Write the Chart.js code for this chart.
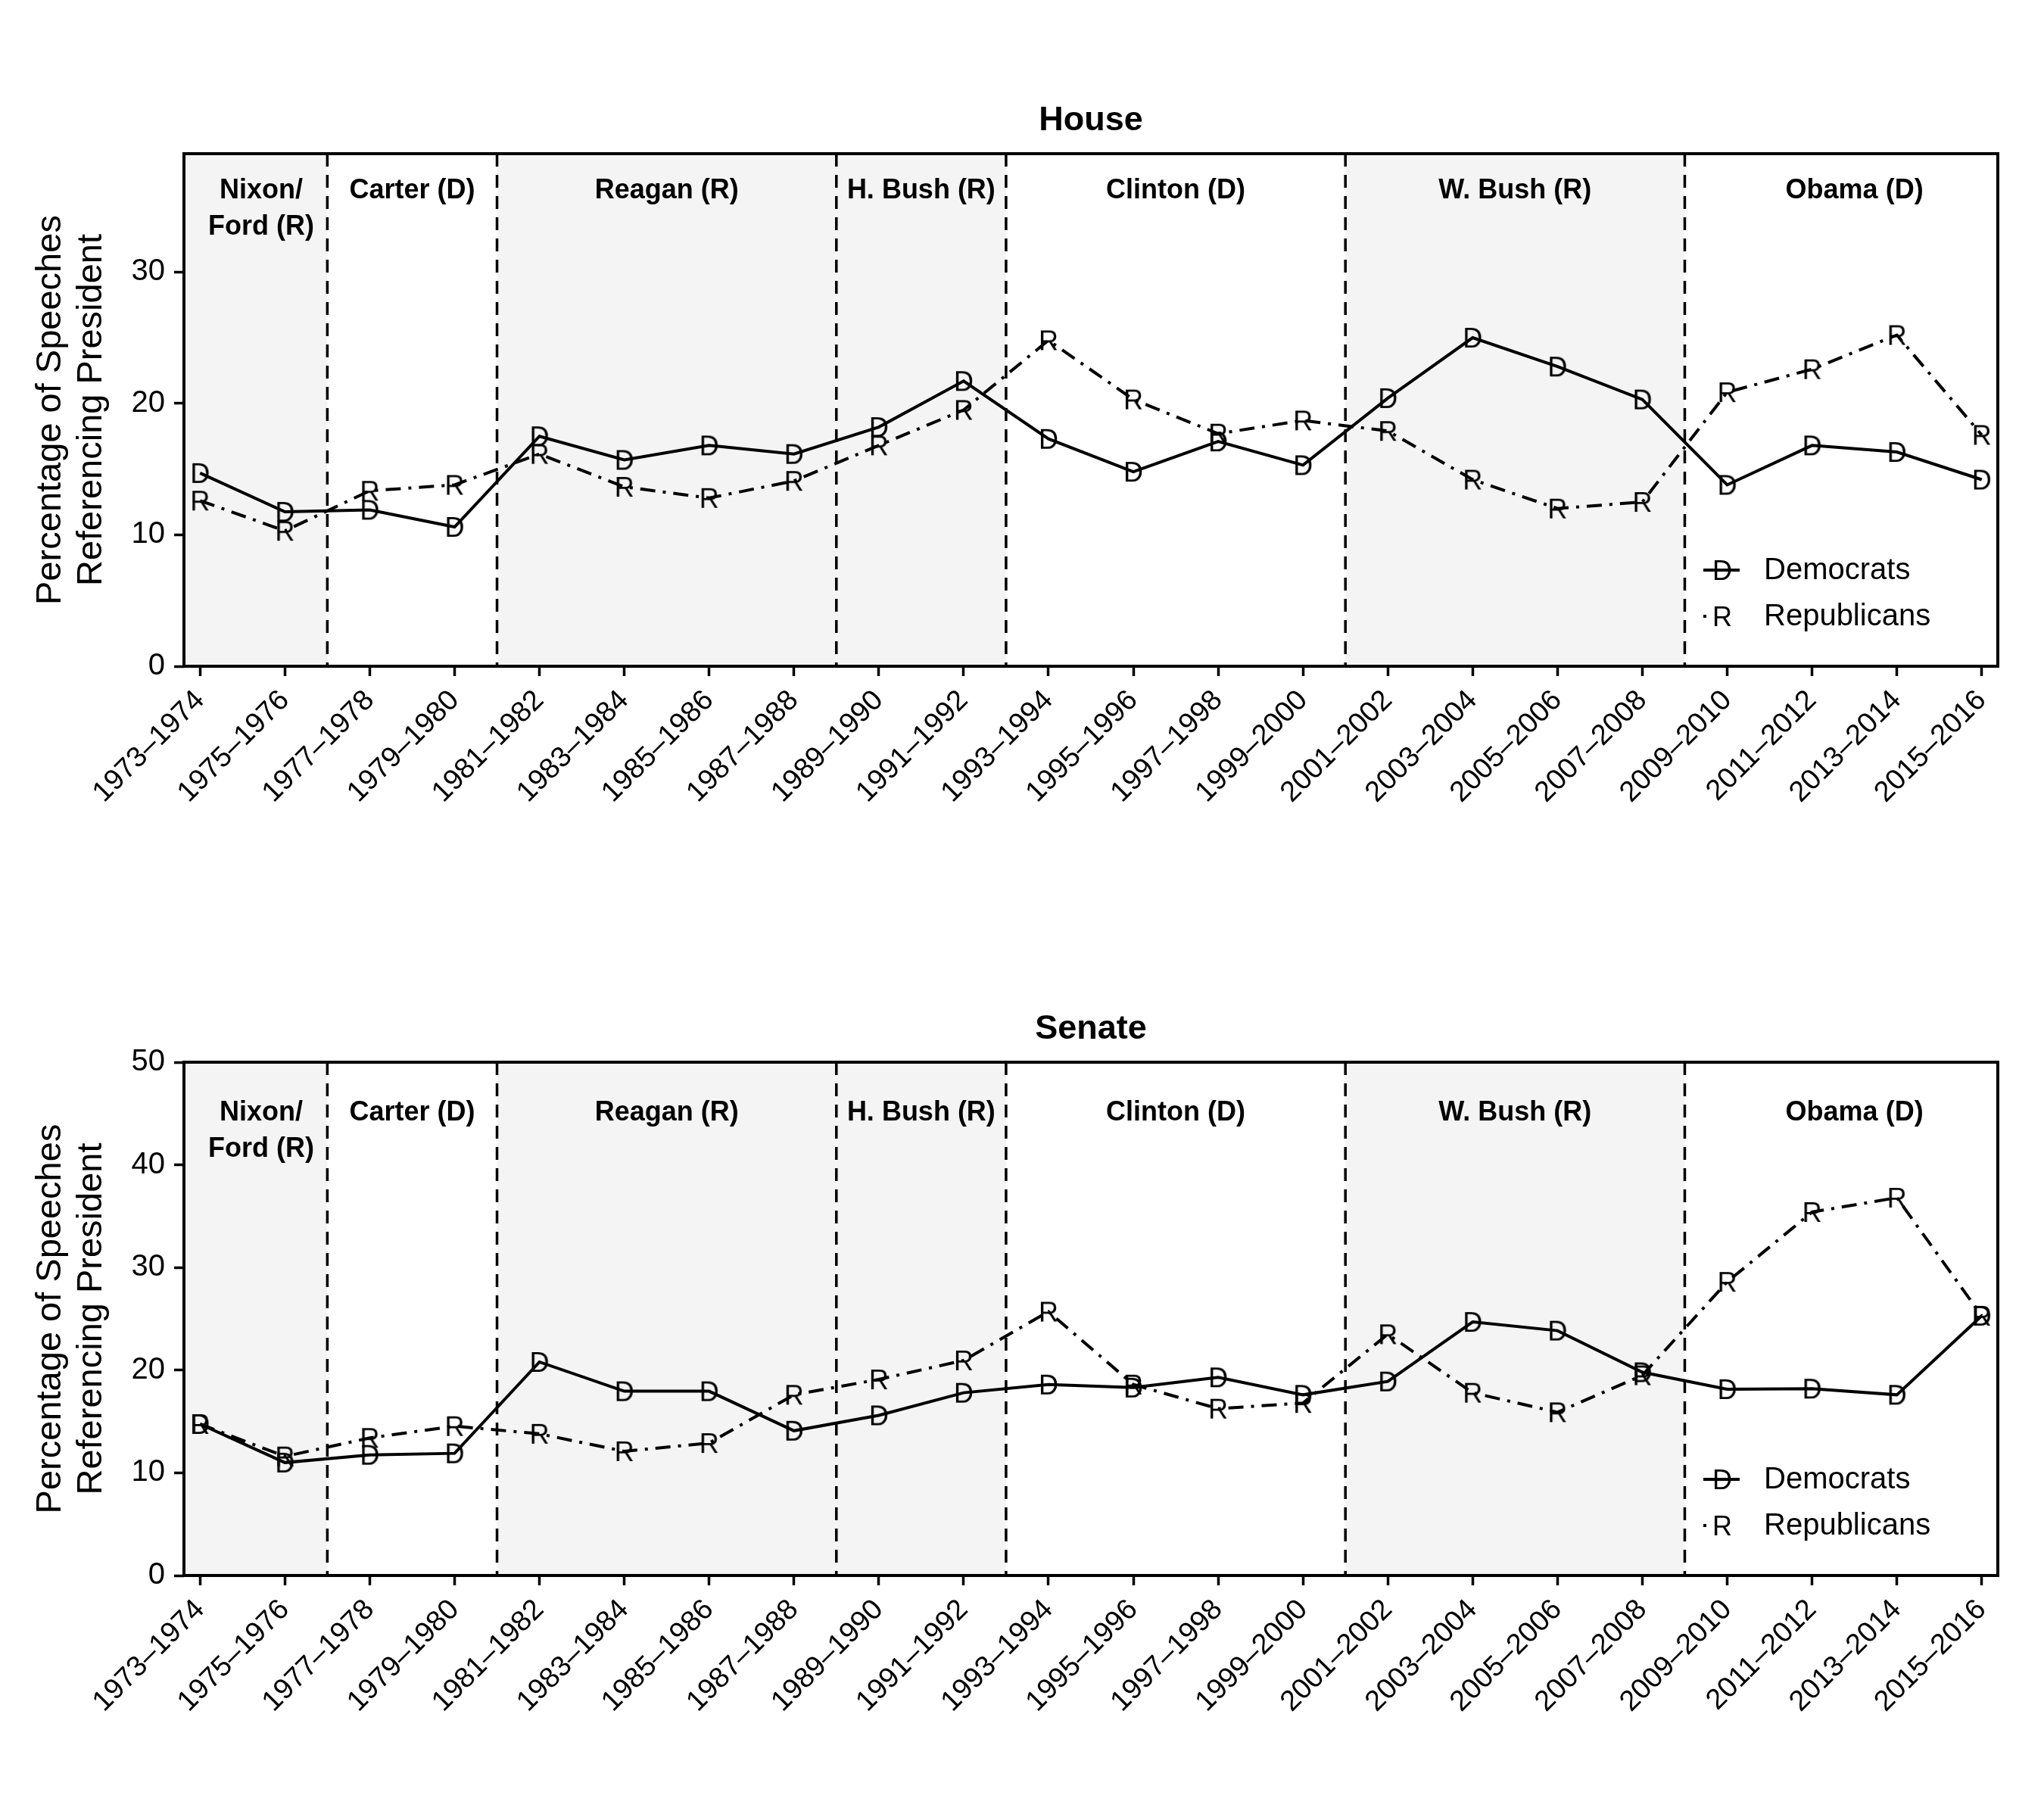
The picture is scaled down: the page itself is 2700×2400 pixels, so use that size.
<!DOCTYPE html>
<html>
<head>
<meta charset="utf-8">
<script src="https://cdn.jsdelivr.net/npm/chart.js@4.4.1/dist/chart.umd.min.js"></script>
<style>
    body { margin: 0; background: #fff; }
    .panel { position: absolute; left: 0; width: 2700px; height: 1200px; }
</style>
</head>
<body>
<div class="panel" style="top:0"><canvas id="houseChart" width="2700" height="1200"></canvas></div>
<div class="panel" style="top:1200px"><canvas id="senateChart" width="2700" height="1200"></canvas></div>
<script>
// ===== DATA =====
const congresses = ["1973–1974", "1975–1976", "1977–1978", "1979–1980", "1981–1982", "1983–1984",
    "1985–1986", "1987–1988", "1989–1990", "1991–1992", "1993–1994", "1995–1996", "1997–1998",
    "1999–2000", "2001–2002", "2003–2004", "2005–2006", "2007–2008", "2009–2010", "2011–2012",
    "2013–2014", "2015–2016"];

const houseDem = [14.7, 11.75, 11.9, 10.6, 17.5, 15.7, 16.8, 16.15, 18.2, 21.7, 17.3,
    14.8, 17.1, 15.3, 20.4, 25.0, 22.8, 20.3, 13.8, 16.8, 16.3, 14.2];
const houseRep = [12.6, 10.3, 13.35, 13.8, 16.15, 13.65, 12.8, 14.1, 16.8, 19.5, 24.8,
    20.3, 17.7, 18.7, 17.9, 14.2, 12.0, 12.5, 20.85, 22.6, 25.2, 17.6];

const senateDem = [14.75, 11.0, 11.75, 11.9, 20.8, 17.95, 17.95, 14.1, 15.6, 17.8, 18.6,
    18.3, 19.3, 17.6, 18.9, 24.7, 23.85, 19.8, 18.15, 18.2, 17.6, 25.3];
const senateRep = [14.75, 11.6, 13.4, 14.55, 13.8, 12.1, 12.9, 17.6, 19.1, 20.95, 25.7,
    18.6, 16.25, 16.8, 23.5, 17.8, 15.9, 19.5, 28.6, 35.4, 36.8, 25.3];

const presidents = [["Nixon/", "Ford (R)"], ["Carter (D)"], ["Reagan (R)"], ["H. Bush (R)"],
    ["Clinton (D)"], ["W. Bush (R)"], ["Obama (D)"]];
const presidentShaded = [true, false, true, true, false, true, false];
const termBreaks = [1.5, 3.5, 7.5, 9.5, 13.5, 17.5];
const presidentLabelX = [0.72, 2.5, 5.5, 8.5, 11.5, 15.5, 19.5];

const xMin = -0.19;
const xMax = 21.19;

const FONT = "'Liberation Sans', Arial, Helvetica, sans-serif";

// ===== LETTER MARKERS =====
function letterMarker(ch) {
    const c = document.createElement("canvas");
    c.width = 48;
    c.height = 48;
    const g = c.getContext("2d");
    g.font = "36px " + FONT;
    g.fillStyle = "#000";
    g.textAlign = "center";
    const m = g.measureText(ch);
    g.fillText(ch, 24, 24 + (m.actualBoundingBoxAscent - m.actualBoundingBoxDescent) / 2);
    return c;
}
const markD = letterMarker("D");
const markR = letterMarker("R");
const dashDot = [20, 10, 4, 10];

// ===== ERA BACKGROUND / LABELS / FRAME PLUGIN =====
const eraPlugin = {
    id: "eras",
    beforeDatasetsDraw(chart, args, opts) {
        const { ctx, chartArea: a, scales: { x, y } } = chart;
        const edges = [xMin, ...termBreaks, xMax];
        ctx.save();
        presidents.forEach((p, i) => {
            if (!presidentShaded[i]) return;
            const x0 = x.getPixelForValue(edges[i]);
            const x1 = x.getPixelForValue(edges[i + 1]);
            ctx.fillStyle = "#f4f4f4";
            ctx.fillRect(x0, a.top, x1 - x0, a.bottom - a.top);
        });
        ctx.strokeStyle = "#000";
        ctx.lineWidth = 3.5;
        ctx.setLineDash([17, 11]);
        termBreaks.forEach(b => {
            const px = x.getPixelForValue(b);
            ctx.beginPath();
            ctx.moveTo(px, a.top);
            ctx.lineTo(px, a.bottom);
            ctx.stroke();
        });
        ctx.setLineDash([]);
        ctx.fillStyle = "#000";
        ctx.font = "bold 36px " + FONT;
        ctx.textAlign = "center";
        ctx.textBaseline = "middle";
        presidents.forEach((lines, i) => {
            const px = x.getPixelForValue(presidentLabelX[i]);
            const py = y.getPixelForValue(opts.labelY);
            lines.forEach((t, j) => ctx.fillText(t, px, py + j * 48));
        });
        ctx.restore();
    },
    afterDraw(chart, args, opts) {
        const { ctx, chartArea: a } = chart;
        ctx.save();
        // frame
        ctx.strokeStyle = "#000";
        ctx.lineWidth = 4;
        ctx.strokeRect(a.left, a.top, a.right - a.left, a.bottom - a.top);
        // panel title
        ctx.fillStyle = "#000";
        ctx.font = "bold 45px " + FONT;
        ctx.textAlign = "center";
        ctx.textBaseline = "middle";
        ctx.fillText(opts.title, (a.left + a.right) / 2, a.top - 43);
        // legend
        const rows = [
            { name: "Democrats", mark: markD, dash: [], dy: 127 },
            { name: "Republicans", mark: markR, dash: [4, 80], dy: 66 }
        ];
        ctx.font = "40px " + FONT;
        ctx.textAlign = "left";
        rows.forEach(r => {
            const ly = a.bottom - r.dy;
            ctx.lineWidth = 4;
            ctx.setLineDash(r.dash);
            ctx.beginPath();
            ctx.moveTo(2250, ly);
            ctx.lineTo(2298, ly);
            ctx.stroke();
            ctx.setLineDash([]);
            ctx.drawImage(r.mark, 2275 - r.mark.width / 2, ly - r.mark.height / 2);
            ctx.fillText(r.name, 2330, ly + 1);
        });
        ctx.restore();
    }
};

// ===== CHART BUILDER =====
function makeChart(id, title, dem, rep, yMax, labelY, bottom) {
    const canvas = document.getElementById(id);
    return new Chart(canvas, {
        type: "line",
        data: {
            datasets: [
                {
                    label: "Democrats",
                    data: dem.map((v, i) => ({ x: i, y: v })),
                    borderColor: "#000",
                    borderWidth: 4,
                    pointStyle: markD,
                    pointRadius: 10,
                    tension: 0
                },
                {
                    label: "Republicans",
                    data: rep.map((v, i) => ({ x: i, y: v })),
                    borderColor: "#000",
                    borderWidth: 4,
                    borderDash: dashDot,
                    pointStyle: markR,
                    pointRadius: 10,
                    tension: 0
                }
            ]
        },
        options: {
            responsive: false,
            animation: false,
            devicePixelRatio: 1,
            layout: { padding: { top: 203, right: 61, bottom: 0, left: 0 } },
            plugins: {
                legend: { display: false },
                tooltip: { enabled: false },
                eras: { title: title, labelY: labelY }
            },
            scales: {
                x: {
                    type: "linear",
                    min: xMin,
                    max: xMax,
                    afterBuildTicks: s => { s.ticks = congresses.map((_, i) => ({ value: i })); },
                    afterFit: s => { s.height = 1200 - bottom; },
                    border: { display: false },
                    grid: { drawOnChartArea: false, drawTicks: true, tickLength: 13, tickWidth: 3.5, tickColor: "#000" },
                    ticks: {
                        autoSkip: false,
                        maxRotation: 45,
                        minRotation: 45,
                        padding: 10,
                        color: "#000",
                        font: { family: FONT, size: 38 },
                        callback: v => congresses[v]
                    }
                },
                y: {
                    min: 0,
                    max: yMax,
                    afterFit: s => { s.width = 243; },
                    border: { display: false },
                    grid: { drawOnChartArea: false, drawTicks: true, tickLength: 13, tickWidth: 3.5, tickColor: "#000" },
                    ticks: {
                        stepSize: 10,
                        includeBounds: false,
                        padding: 12,
                        color: "#000",
                        font: { family: FONT, size: 40 }
                    },
                    title: {
                        display: true,
                        text: ["Percentage of Speeches", "Referencing President"],
                        color: "#000",
                        padding: { top: 40, bottom: 0 },
                        font: { family: FONT, size: 47, lineHeight: 1.15 }
                    }
                }
            }
        },
        plugins: [eraPlugin]
    });
}

makeChart("houseChart", "House", houseDem, houseRep, 39, 36.2, 880);
makeChart("senateChart", "Senate", senateDem, senateRep, 50, 45.05, 881);
</script>
</body>
</html>
